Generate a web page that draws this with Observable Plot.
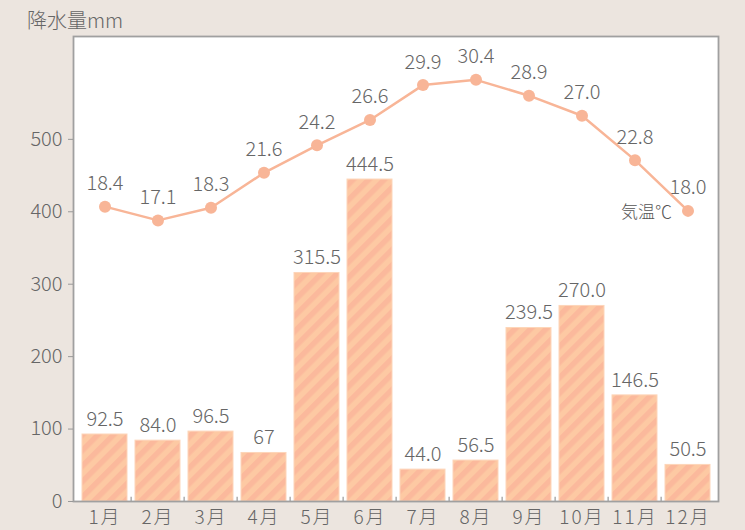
<!DOCTYPE html>
<html><head><meta charset="utf-8">
<script src="https://cdn.jsdelivr.net/npm/d3@7"></script>
<script src="https://cdn.jsdelivr.net/npm/@observablehq/plot@0.6"></script>
<style>
body{margin:0;background:#ece5df;}
#wrap{position:relative;width:745px;height:530px;overflow:hidden;}
#title{position:absolute;left:27px;top:5px;font:300 20px "Noto Sans CJK JP";color:#666;}
#chart{position:absolute;left:0;top:0;}
g[aria-label="x-axis tick label"] text{letter-spacing:2px;}
</style></head><body>
<div id="wrap"><div id="chart"></div><div id="title">降水量mm</div></div>
<script>
const months = ["1月","2月","3月","4月","5月","6月","7月","8月","9月","10月","11月","12月"];
const precipitation = [92.5,84.0,96.5,67,315.5,444.5,44.0,56.5,239.5,270.0,146.5,50.5];
const precipLabels = ["92.5","84.0","96.5","67","315.5","444.5","44.0","56.5","239.5","270.0","146.5","50.5"];
const temperature = [18.4,17.1,18.3,21.6,24.2,26.6,29.9,30.4,28.9,27.0,22.8,18.0];
const tempLabels = ["18.4","17.1","18.3","21.6","24.2","26.6","29.9","30.4","28.9","27.0","22.8","18.0"];
const yTicks = [0,100,200,300,400,500];
const seriesName = "気温℃";

// secondary (temperature) axis mapped onto the precipitation scale
const tempScale = d3.scaleLinear().domain([-9.5, 34.5]).range([0, 642]);

const data = months.map((m, i) => ({
  month: m, p: precipitation[i], pl: precipLabels[i],
  t: temperature[i], tl: tempLabels[i], ty: tempScale(temperature[i])
}));

const W = 745, H = 530, ML = 73, MR = 27;
const step = (W - ML - MR) / months.length;
const lineColor = "#f8b597";
const textColor = "#666";
const font = "'Noto Sans CJK JP', 'Noto Sans', sans-serif";

const chart = Plot.plot({
  width: W, height: H,
  marginLeft: ML, marginRight: MR, marginTop: 36, marginBottom: 29,
  style: {fontFamily: font, fontSize: "20px", fontWeight: 300, background: "transparent", color: textColor},
  x: {domain: months, paddingInner: 0.16, paddingOuter: 0.08},
  y: {domain: [0, 642]},
  marks: [
    Plot.frame({fill: "white", stroke: null}),
    Plot.barY(data, {x: "month", y: "p", fill: "url(#hatch)", stroke: "#fdd5b9", strokeWidth: 1}),
    Plot.text(data, {x: "month", y: "p", text: "pl", dy: -15, fontSize: 20, fontWeight: 300, fill: textColor}),
    Plot.line(data, {x: "month", y: "ty", stroke: lineColor, strokeWidth: 2.5}),
    Plot.dot(data, {x: "month", y: "ty", r: 6, fill: lineColor, stroke: null}),
    Plot.text(data, {x: "month", y: "ty", text: "tl", dy: -23, fontSize: 20, fontWeight: 300, fill: textColor}),
    Plot.text([data[data.length - 1]], {x: "month", y: "ty", text: () => seriesName, dx: -16, dy: 2, textAnchor: "end", fontSize: 17, fontWeight: 300, fill: "#555"}),
    Plot.ruleX(months.slice(1), {x: d => d, y1: 0, y2: 6, dx: -step / 2, stroke: "#999", strokeWidth: 1.2}),
    Plot.frame({stroke: "#a0a0a0", strokeWidth: 1.8}),
    Plot.axisY({ticks: yTicks, tickSize: 5, tickPadding: 6, fontSize: 20, fontWeight: 300, label: null, stroke: "#999", fill: textColor}),
    Plot.axisX({tickSize: 0, tickPadding: 9, fontSize: 19, fontWeight: 300, label: null, fill: textColor})
  ]
});

chart.insertAdjacentHTML("afterbegin",
  `<defs><pattern id="hatch" patternUnits="userSpaceOnUse" width="11" height="11" patternTransform="rotate(45)">
     <rect width="11" height="11" fill="#fdc9a3"/><rect width="5.5" height="11" fill="#fbb99c"/>
   </pattern></defs>`);

document.getElementById("chart").appendChild(chart);
</script>
</body></html>
